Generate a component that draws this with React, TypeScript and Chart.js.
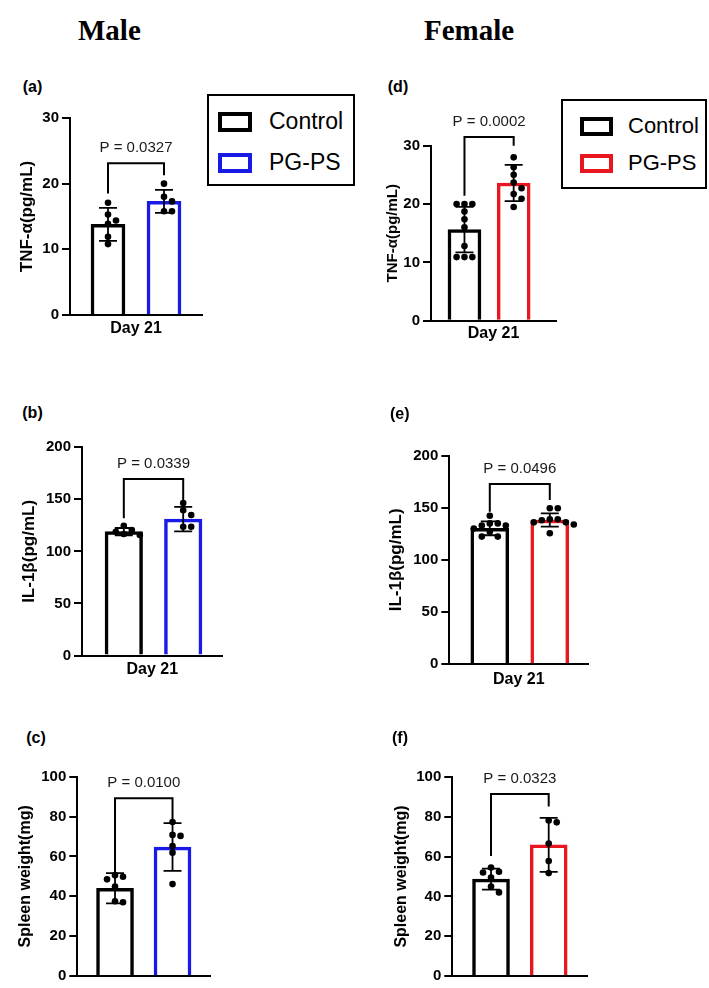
import React, { useEffect, useRef } from 'react';
import { Chart, registerables } from 'chart.js';

Chart.register(...registerables);

const SANS = "'Liberation Sans', Arial, Helvetica, sans-serif";
const SERIF = "'Liberation Serif', 'Times New Roman', Times, serif";

const GROUPS = ['Control', 'PG-PS'];
const X_LABEL = 'Day 21';
const BLUE = '#1a1ae6';
const RED = '#e8161e';

// (a) Male TNF-α
const A_MEAN = [13.8, 17.3];
const A_SD = [2.5, 1.75];
const A_CTRL = [17.1, 15.3, 14.4, 13.9, 11.9, 10.8];
const A_PG = [20.0, 18.0, 17.3, 15.8, 15.8];
const A_BRACKET = [23.1, 18.5, 21.3];
const A_P = 'P = 0.0327';

// (b) Male IL-1β
const B_MEAN = [119, 131];
const B_SD = [3.5, 11.7];
const B_CTRL = [124.7, 120.5, 118.9, 116.7, 115.7];
const B_PG = [146.5, 139.5, 135, 123.7, 123.7];
const B_BRACKET = [169.6, 131.8, 149.4];
const B_P = 'P = 0.0339';

// (c) Male spleen weight
const C_MEAN = [44, 64.7];
const C_SD = [7.6, 12];
const C_CTRL = [50.6, 49.8, 48.5, 44.9, 37.5, 37.0];
const C_PG = [77.3, 70.8, 70.3, 65.2, 61.9, 46.1];
const C_BRACKET = [89.2, 52.2, 78.5];
const C_P = 'P = 0.0100';

// (d) Female TNF-α
const D_MEAN = [15.6, 23.6];
const D_SD = [3.9, 3.1];
const D_CTRL = [20, 20, 20, 18.7, 17.4, 16.0, 12.8, 10.9, 10.9, 10.9];
const D_PG = [28.0, 26.3, 25.0, 23.7, 22.7, 21.7, 20.9, 19.5];
const D_BRACKET = [31.5, 21.4, 30.0];
const D_P = 'P = 0.0002';

// (e) Female IL-1β
const E_MEAN = [130.3, 138.3];
const E_SD = [6.7, 6.4];
const E_CTRL = [142.4, 135, 135, 133, 133, 130, 127, 122.3, 122.3];
const E_PG = [149.5, 149.5, 139, 139, 138, 136, 136, 134, 125.5];
const E_BRACKET = [172.8, 146.2, 157.5];
const E_P = 'P = 0.0496';

// (f) Female spleen weight
const F_MEAN = [48.7, 65.9];
const F_SD = [5.3, 13.6];
const F_CTRL = [54.5, 52.4, 52.0, 49.5, 45.0, 42.0];
const F_PG = [78.2, 77.2, 66.6, 57.8, 51.7];
const F_BRACKET = [91.5, 60.3, 85.2];
const F_P = 'P = 0.0323';

const TNF_TITLE = 'TNF-α(pg/mL)';
const IL_TITLE = 'IL-1β(pg/mL)';
const SPLEEN_TITLE = 'Spleen weight(mg)';

type Spec = {
  mean: number[]; sd: number[]; ctrl: number[]; pg: number[]; bracket: number[]; p: string;
  yMax: number; yStep: number; yTitle: string; color: string; showX: boolean;
  box: { x: number; y: number; w: number; h: number };
  area: { l: number; t: number; r: number; b: number };
  xMin: number; xMax: number; barW: number; yTitleSize: number; yTitleX: number; xTitleY: number;
};

const SPECS: Spec[] = [
  {
    mean: A_MEAN, sd: A_SD, ctrl: A_CTRL, pg: A_PG, bracket: A_BRACKET, p: A_P,
    yMax: 30, yStep: 10, yTitle: TNF_TITLE, color: BLUE, showX: true,
    box: { x: 0, y: 105, w: 206, h: 240 }, area: { l: 70, t: 118, r: 202, b: 315 },
    xMin: 0.3214, xMax: 2.6786, barW: 34, yTitleSize: 17, yTitleX: 27.5, xTitleY: 329,
  },
  {
    mean: B_MEAN, sd: B_SD, ctrl: B_CTRL, pg: B_PG, bracket: B_BRACKET, p: B_P,
    yMax: 200, yStep: 50, yTitle: IL_TITLE, color: BLUE, showX: true,
    box: { x: 0, y: 425, w: 235, h: 265 }, area: { l: 82, t: 447.3, r: 222.7, b: 655.5 },
    xMin: 0.296, xMax: 2.665, barW: 37.5, yTitleSize: 17, yTitleX: 29.5, xTitleY: 670,
  },
  {
    mean: C_MEAN, sd: C_SD, ctrl: C_CTRL, pg: C_PG, bracket: C_BRACKET, p: C_P,
    yMax: 100, yStep: 20, yTitle: SPLEEN_TITLE, color: BLUE, showX: false,
    box: { x: 0, y: 755, w: 225, h: 233 }, area: { l: 77.3, t: 776.7, r: 210.7, b: 977.7 },
    xMin: 0.344, xMax: 2.664, barW: 37, yTitleSize: 16, yTitleX: 25.8, xTitleY: 0,
  },
  {
    mean: D_MEAN, sd: D_SD, ctrl: D_CTRL, pg: D_PG, bracket: D_BRACKET, p: D_P,
    yMax: 30, yStep: 10, yTitle: TNF_TITLE, color: RED, showX: true,
    box: { x: 370, y: 108, w: 190, h: 242 }, area: { l: 431, t: 145.7, r: 558, b: 320.7 },
    xMin: 0.32, xMax: 2.86, barW: 33, yTitleSize: 15, yTitleX: 393.3, xTitleY: 334,
  },
  {
    mean: E_MEAN, sd: E_SD, ctrl: E_CTRL, pg: E_PG, bracket: E_BRACKET, p: E_P,
    yMax: 200, yStep: 50, yTitle: IL_TITLE, color: RED, showX: true,
    box: { x: 370, y: 440, w: 230, h: 260 }, area: { l: 449.3, t: 455.7, r: 588.3, b: 664 },
    xMin: 0.325, xMax: 2.642, barW: 38, yTitleSize: 17, yTitleX: 396.7, xTitleY: 680,
  },
  {
    mean: F_MEAN, sd: F_SD, ctrl: F_CTRL, pg: F_PG, bracket: F_BRACKET, p: F_P,
    yMax: 100, yStep: 20, yTitle: SPLEEN_TITLE, color: RED, showX: false,
    box: { x: 370, y: 755, w: 230, h: 233 }, area: { l: 452.3, t: 777, r: 587.7, b: 977.7 },
    xMin: 0.329, xMax: 2.676, barW: 37, yTitleSize: 16, yTitleX: 401.7, xTitleY: 0,
  },
];

// simple beeswarm: place each point in the column nearest the centre that has no overlap
function swarm(values: number[], pxPerY: number, pxPerX: number): number[] {
  const step = 8;
  const minGap = 6.5;
  const placed: { col: number; py: number }[] = [];
  const cols = [0, 1, -1, 2, -2, 3, -3, 4, -4];
  return values.map((v) => {
    const py = v * pxPerY;
    for (const k of cols) {
      const ok = placed.every((q) => q.col !== k || Math.abs(q.py - py) >= minGap);
      if (ok) {
        placed.push({ col: k, py });
        return (k * step) / pxPerX;
      }
    }
    return 0;
  });
}

function Panel({ s }: { s: Spec }) {
  const ref = useRef<HTMLCanvasElement>(null);
  useEffect(() => {
    const canvas = ref.current;
    if (!canvas) return;
    const { box, area } = s;
    const pxPerY = (area.b - area.t) / s.yMax;
    const pxPerX = (area.r - area.l) / (s.xMax - s.xMin);
    const offC = swarm(s.ctrl, pxPerY, pxPerX);
    const offP = swarm(s.pg, pxPerY, pxPerX);
    const yLH = s.yTitleSize * 1.2;
    const xLH = 16 * 1.2;
    const xH = s.showX ? s.xTitleY - area.b + xLH / 2 : 10;
    const yW = area.l - box.x;
    const padding = {
      left: 0,
      top: area.t - box.y,
      right: box.x + box.w - area.r,
      bottom: box.y + box.h - area.b - xH,
    };
    const annot = {
      id: 'annot',
      afterDatasetDraw(chart: any, args: any) {
        if (args.index !== 2) return;
        const { ctx } = chart;
        const x = chart.scales.x;
        const y = chart.scales.y;
        ctx.save();
        ctx.strokeStyle = '#000';
        ctx.lineWidth = 1.8;
        [1, 2].forEach((xv, i) => {
          const px = x.getPixelForValue(xv);
          const hi = y.getPixelForValue(s.mean[i] + s.sd[i]);
          const lo = y.getPixelForValue(s.mean[i] - s.sd[i]);
          ctx.beginPath();
          ctx.moveTo(px, hi);
          ctx.lineTo(px, lo);
          ctx.moveTo(px - 9, hi);
          ctx.lineTo(px + 9, hi);
          ctx.moveTo(px - 9, lo);
          ctx.lineTo(px + 9, lo);
          ctx.stroke();
        });
        ctx.restore();
      },
      afterDraw(chart: any) {
        const { ctx } = chart;
        const x = chart.scales.x;
        const y = chart.scales.y;
        const x1 = x.getPixelForValue(1);
        const x2 = x.getPixelForValue(2);
        const yt = y.getPixelForValue(s.bracket[0]);
        const yl = y.getPixelForValue(s.bracket[1]);
        const yr = y.getPixelForValue(s.bracket[2]);
        ctx.save();
        ctx.strokeStyle = '#000';
        ctx.lineWidth = 2;
        ctx.beginPath();
        ctx.moveTo(x1, yl);
        ctx.lineTo(x1, yt);
        ctx.lineTo(x2, yt);
        ctx.lineTo(x2, yr);
        ctx.stroke();
        ctx.font = `15px ${SANS}`;
        ctx.textAlign = 'center';
        ctx.textBaseline = 'middle';
        ctx.fillStyle = '#1a1a1a';
        ctx.fillText(s.p, (x1 + x2) / 2, yt - 15.5);
        ctx.restore();
      },
    };
    const chart = new Chart(canvas, {
      type: 'bar',
      data: {
        datasets: [
          {
            type: 'scatter',
            label: GROUPS[0] + ' points',
            data: s.ctrl.map((v, i) => ({ x: 1 + offC[i], y: v })),
            pointRadius: 3.3,
            pointBackgroundColor: '#000',
            pointBorderWidth: 0,
          } as any,
          {
            type: 'scatter',
            label: GROUPS[1] + ' points',
            data: s.pg.map((v, i) => ({ x: 2 + offP[i], y: v })),
            pointRadius: 3.3,
            pointBackgroundColor: '#000',
            pointBorderWidth: 0,
          } as any,
          {
            type: 'bar',
            label: 'mean',
            data: s.mean.map((v, i) => ({ x: i + 1, y: v })),
            backgroundColor: '#ffffff',
            borderColor: ['#000000', s.color],
            borderWidth: 3.5,
            barThickness: s.barW,
          } as any,
        ],
      },
      options: {
        responsive: false,
        animation: false,
        events: [],
        layout: { padding },
        plugins: { legend: { display: false }, tooltip: { enabled: false } },
        scales: {
          x: {
            type: 'linear',
            min: s.xMin,
            max: s.xMax,
            offset: false,
            grid: { display: false, drawTicks: false },
            border: { display: true, color: '#000', width: 2 },
            ticks: { display: false },
            title: {
              display: s.showX,
              text: X_LABEL,
              color: '#000',
              font: { family: SANS, size: 16, weight: 'bold' },
              padding: 0,
            },
            afterFit(sc: any) { sc.height = xH; },
          } as any,
          y: {
            type: 'linear',
            min: 0,
            max: s.yMax,
            ticks: { stepSize: s.yStep, color: '#000', padding: 3, font: { family: SANS, size: 15, weight: 'bold' } },
            grid: { display: true, drawOnChartArea: false, drawTicks: true, tickLength: 8, color: '#000', lineWidth: 2 },
            border: { display: true, color: '#000', width: 2 },
            title: {
              display: true,
              text: s.yTitle,
              color: '#000',
              font: { family: SANS, size: s.yTitleSize, weight: 'bold' },
              padding: { top: s.yTitleX - box.x - yLH / 2, bottom: 0 },
            },
            afterFit(sc: any) { sc.width = yW; },
          } as any,
        },
      },
      plugins: [annot],
    } as any);
    const want = { l: area.l - box.x, t: area.t - box.y, r: area.r - box.x, b: area.b - box.y };
    for (let i = 0; i < 3; i++) {
      const ca = chart.chartArea;
      const dl = want.l - ca.left;
      const dt = want.t - ca.top;
      const dr = ca.right - want.r;
      const db = ca.bottom - want.b;
      if (Math.max(Math.abs(dl), Math.abs(dt), Math.abs(dr), Math.abs(db)) < 0.05) break;
      padding.left += dl;
      padding.top += dt;
      padding.right += dr;
      padding.bottom += db;
      chart.update();
    }
    return () => chart.destroy();
  }, [s]);
  return (
    <canvas
      ref={ref}
      width={s.box.w}
      height={s.box.h}
      style={{ position: 'absolute', left: s.box.x, top: s.box.y, width: s.box.w, height: s.box.h }}
    />
  );
}

const PANEL_LABELS = [
  { t: '(a)', x: 32.5, y: 87 },
  { t: '(b)', x: 32.5, y: 413.3 },
  { t: '(c)', x: 36, y: 738.3 },
  { t: '(d)', x: 398, y: 86.7 },
  { t: '(e)', x: 399.7, y: 414 },
  { t: '(f)', x: 400, y: 738.3 },
];

type LegendSpec = {
  box: { x: number; y: number; w: number; h: number };
  sqX: number; sqW: number; sqH: number; textX: number; size: number; rows: number[]; color: string;
};

const LEGENDS: LegendSpec[] = [
  { box: { x: 207, y: 94, w: 148, h: 92 }, sqX: 218, sqW: 34, sqH: 20, textX: 269, size: 23, rows: [122, 163], color: BLUE },
  { box: { x: 561, y: 99, w: 146, h: 90 }, sqX: 580, sqW: 33, sqH: 19, textX: 628, size: 22, rows: [126.5, 163.5], color: RED },
];

function Legend({ l }: { l: LegendSpec }) {
  return (
    <>
      <div
        style={{
          position: 'absolute', left: l.box.x, top: l.box.y, width: l.box.w, height: l.box.h,
          border: '2.5px solid #000', boxSizing: 'border-box', background: '#fff',
        }}
      />
      {GROUPS.map((g, i) => (
        <React.Fragment key={g}>
          <div
            style={{
              position: 'absolute', left: l.sqX, top: l.rows[i] - l.sqH / 2, width: l.sqW, height: l.sqH,
              border: `4px solid ${i === 0 ? '#000' : l.color}`, boxSizing: 'border-box', background: '#fff',
            }}
          />
          <div
            style={{
              position: 'absolute', left: l.textX, top: l.rows[i] - l.size * 0.6, height: l.size * 1.2,
              lineHeight: `${l.size * 1.2}px`, fontFamily: SANS, fontSize: l.size, color: '#000', whiteSpace: 'nowrap',
            }}
          >
            {g}
          </div>
        </React.Fragment>
      ))}
    </>
  );
}

export default function App() {
  return (
    <div
      style={{
        position: 'absolute', left: 0, top: 0, width: 709, height: 988, overflow: 'hidden', background: '#fff',
      }}
    >
      <div style={{ position: 'absolute', left: 78, top: 12, fontFamily: SERIF, fontWeight: 'bold', fontSize: 29, lineHeight: '36px', color: '#000' }}>
        Male
      </div>
      <div style={{ position: 'absolute', left: 424, top: 12, fontFamily: SERIF, fontWeight: 'bold', fontSize: 29, lineHeight: '36px', color: '#000' }}>
        Female
      </div>
      {SPECS.map((s, i) => (
        <Panel key={i} s={s} />
      ))}
      {PANEL_LABELS.map((p) => (
        <div
          key={p.t}
          style={{
            position: 'absolute', left: p.x - 15, top: p.y - 10, width: 30, height: 20, lineHeight: '20px',
            textAlign: 'center', fontFamily: SANS, fontWeight: 'bold', fontSize: 16, color: '#000',
          }}
        >
          {p.t}
        </div>
      ))}
      {LEGENDS.map((l, i) => (
        <Legend key={i} l={l} />
      ))}
    </div>
  );
}
